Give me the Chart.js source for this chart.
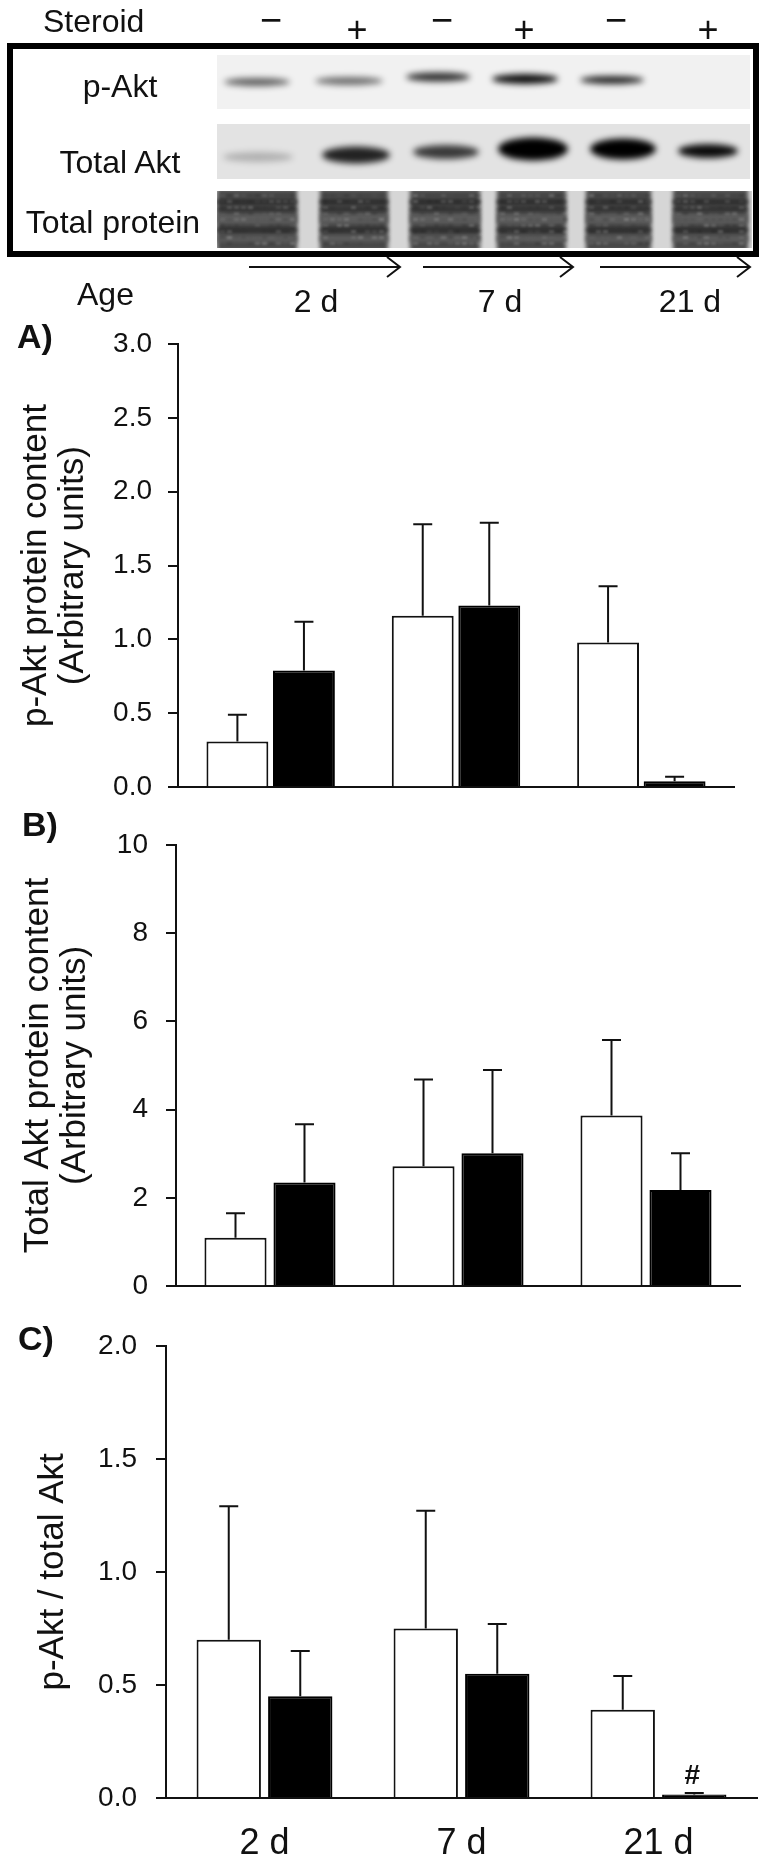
<!DOCTYPE html>
<html>
<head>
<meta charset="utf-8">
<script src="https://cdn.jsdelivr.net/npm/chart.js@4/dist/chart.umd.min.js"></script>
<style>
  body { margin: 0; background: #fff; width: 768px; height: 1858px; position: relative; overflow: hidden; color: #111; }
  .t { position: absolute; white-space: nowrap; }
  .box { position: absolute; left: 7px; top: 43px; width: 752px; height: 214px; border: 6px solid #000; box-sizing: border-box; }
  canvas { position: absolute; left: 0; }
</style>
</head>
<body>
<canvas id="blot" width="768" height="330" style="top:0"></canvas>
<div class="box"></div>
<canvas id="chartA" width="768" height="520" style="top:300px"></canvas>
<canvas id="chartB" width="768" height="511" style="top:810px"></canvas>
<canvas id="chartC" width="768" height="548" style="top:1310px"></canvas>
<script>
const ages = ['2 d', '7 d', '21 d'];

// A) p-Akt protein content
const pAktControl = [0.31, 1.16, 0.98];
const pAktControlSem = [0.18, 0.62, 0.38];
const pAktSteroid = [0.79, 1.23, 0.04];
const pAktSteroidSem = [0.33, 0.56, 0.03];
const pAktTicks = [0, 0.5, 1.0, 1.5, 2.0, 2.5, 3.0];

// B) total Akt protein content
const totalAktControl = [1.10, 2.72, 3.87];
const totalAktControlSem = [0.55, 1.96, 1.71];
const totalAktSteroid = [2.35, 3.01, 2.18];
const totalAktSteroidSem = [1.32, 1.89, 0.83];
const totalAktTicks = [0, 2, 4, 6, 8, 10];

// C) p-Akt / total Akt
const ratioControl = [0.70, 0.75, 0.39];
const ratioControlSem = [0.59, 0.52, 0.15];
const ratioSteroid = [0.45, 0.55, 0.015];
const ratioSteroidSem = [0.20, 0.22, 0.007];
const ratioTicks = [0, 0.5, 1.0, 1.5, 2.0];
const ratioMarks = ['', '', '#'];

const FONT = '"Liberation Sans", Arial, sans-serif';
Chart.defaults.font.family = FONT;
Chart.defaults.color = '#111';

// --- text labels (html) ---
function addText(txt, x, base, size, opts) {
  opts = opts || {};
  const d = document.createElement('div');
  d.className = 't';
  d.textContent = txt;
  d.style.font = (opts.bold ? 'bold ' : '') + size + 'px ' + FONT;
  d.style.lineHeight = size + 'px';
  d.style.top = (base - 0.8465 * size) + 'px';
  d.style.left = x + 'px';
  if (opts.center) d.style.transform = 'translateX(-50%)';
  document.body.appendChild(d);
}

addText('Steroid', 43, 32, 32);
[271, 442, 616].forEach(x => addText('\u2212', x, 33, 38, {center: true}));
[357, 524, 708].forEach(x => addText('+', x, 42, 36, {center: true}));
addText('p-Akt', 120, 97, 32, {center: true});
addText('Total Akt', 120, 173, 32, {center: true});
addText('Total protein', 113, 233, 32, {center: true});
addText('Age', 77, 305, 32);
addText('2 d', 316, 312, 32, {center: true});
addText('7 d', 500, 312, 32, {center: true});
addText('21 d', 690, 312, 32, {center: true});
addText('A)', 17, 348, 34, {bold: true});
addText('B)', 22, 836, 34, {bold: true});
addText('C)', 18, 1350, 34, {bold: true});

// --- blot picture ---
const bctx = document.getElementById('blot').getContext('2d');
const pAktBands = [[257, 82, 66, 8, 0.6], [349, 81, 68, 8, 0.55], [438, 77, 64, 9, 0.8], [525, 79, 66, 10, 0.95], [612, 80, 64, 8, 0.85]];
const totalAktBands = [[258, 157, 70, 10, 0.22], [356, 155, 68, 17, 0.85], [446, 152, 66, 14, 0.75], [533, 149, 70, 23, 1], [623, 149, 66, 21, 1], [708, 151, 60, 14, 0.95]];
const proteinLanes = [[217, 297], [320, 388], [410, 480], [497, 566], [586, 651], [673, 748]];

function strip(x, y, w, h, bg, fn) {
  bctx.save();
  bctx.beginPath(); bctx.rect(x, y, w, h); bctx.clip();
  bctx.fillStyle = bg; bctx.fillRect(x, y, w, h);
  fn();
  bctx.restore();
}
function bands(list) {
  bctx.filter = 'blur(3px)';
  list.forEach(([cx, cy, w, h, a]) => {
    bctx.fillStyle = 'rgba(0,0,0,' + a + ')';
    bctx.beginPath();
    bctx.ellipse(cx, cy, w / 2, h / 2, 0, 0, Math.PI * 2);
    bctx.fill();
  });
  bctx.filter = 'none';
}
strip(217, 55, 533, 54, '#f1f1f1', () => bands(pAktBands));
strip(217, 124, 533, 55, '#e3e3e3', () => bands(totalAktBands));
strip(217, 191, 535, 57, '#d6d6d6', () => {
  bctx.filter = 'blur(2px)';
  proteinLanes.forEach(([a, b]) => {
    bctx.fillStyle = '#484848'; bctx.fillRect(a, 189, b - a, 62);
    bctx.fillStyle = '#5c5c5c'; bctx.fillRect(a, 213, b - a, 11); bctx.fillRect(a, 235, b - a, 7);
    bctx.fillStyle = '#262626'; bctx.fillRect(a, 200, b - a, 4); bctx.fillRect(a, 208, b - a, 3); bctx.fillRect(a, 228, b - a, 4);
  });
  bctx.filter = 'blur(1px)';
  // mottled texture, fixed pattern
  proteinLanes.forEach(([a, b], k) => {
    for (let x = a + 3; x < b - 2; x += 7) {
      for (let y = 194; y < 246; y += 6) {
        const s = Math.sin(x * 12.9898 + y * 78.233 + k) * 43758.5453;
        const f = s - Math.floor(s);
        bctx.fillStyle = f > 0.5 ? 'rgba(255,255,255,' + (f - 0.5) * 0.35 + ')' : 'rgba(0,0,0,' + f * 0.3 + ')';
        bctx.fillRect(x, y, 5, 3);
      }
    }
  });
  bctx.filter = 'none';
});
// age arrows
const arrowSpans = [[249, 400], [423, 573], [600, 750]];
bctx.strokeStyle = '#111'; bctx.lineWidth = 2;
arrowSpans.forEach(([a, b]) => {
  bctx.beginPath();
  bctx.moveTo(a, 267); bctx.lineTo(b, 267);
  bctx.moveTo(b - 13, 257); bctx.lineTo(b, 267); bctx.lineTo(b - 13, 277);
  bctx.stroke();
});

// --- error bars plugin ---
const errorBars = {
  id: 'errorBars',
  afterDatasetsDraw(chart) {
    const ctx = chart.ctx, y = chart.scales.y;
    chart.data.datasets.forEach((ds, i) => {
      chart.getDatasetMeta(i).data.forEach((bar, j) => {
        const top = y.getPixelForValue(ds.data[j] + ds.errors[j]);
        ctx.save();
        ctx.strokeStyle = '#111'; ctx.lineWidth = 2;
        ctx.beginPath();
        ctx.moveTo(bar.x, bar.y); ctx.lineTo(bar.x, top);
        ctx.moveTo(bar.x - 9.5, top); ctx.lineTo(bar.x + 9.5, top);
        ctx.stroke();
        if (ds.marks && ds.marks[j]) {
          ctx.fillStyle = '#111';
          ctx.font = 'bold 28px ' + FONT;
          ctx.textAlign = 'center'; ctx.textBaseline = 'middle';
          ctx.fillText(ds.marks[j], bar.x - 2, top - 17);
        }
        ctx.restore();
      });
    });
  }
};

function panel(id, o) {
  return new Chart(document.getElementById(id), {
    type: 'bar',
    data: {
      labels: ages,
      datasets: [
        { label: 'Control', data: o.ctrl, errors: o.ctrlSem, backgroundColor: '#fff', borderColor: '#111', borderWidth: 2,
          categoryPercentage: o.catPct, barPercentage: o.barPct },
        { label: 'Steroid', data: o.ster, errors: o.sterSem, marks: o.marks, backgroundColor: '#000', borderColor: '#000', borderWidth: 2,
          categoryPercentage: o.catPct, barPercentage: o.barPct }
      ]
    },
    options: {
      responsive: false, animation: false, devicePixelRatio: 1,
      layout: { padding: { top: o.padTop, right: o.padRight, left: 0, bottom: 0 } },
      plugins: { legend: { display: false }, tooltip: { enabled: false } },
      scales: {
        x: {
          grid: { display: false },
          border: { color: '#111', width: 2 },
          ticks: { display: o.showX, font: { size: 36, lineHeight: 1.2 }, color: '#111', padding: 16 },
          afterFit: s => { s.height = o.xHeight; }
        },
        y: {
          min: o.ticks[0], max: o.ticks[o.ticks.length - 1],
          afterBuildTicks: s => { s.ticks = o.ticks.map(v => ({ value: v })); },
          grid: { drawOnChartArea: false, tickLength: 10, color: '#111', lineWidth: 2 },
          border: { color: '#111', width: 2 },
          ticks: { font: { size: 28 }, color: '#111', padding: o.tickPad, callback: o.fmt },
          title: { display: true, text: o.title, font: { size: 35, lineHeight: '37px' }, color: '#111', padding: { top: o.titlePad, bottom: 0 } },
          afterFit: s => { s.width = o.yWidth; }
        }
      }
    },
    plugins: [errorBars]
  });
}

panel('chartA', {
  ctrl: pAktControl, ctrlSem: pAktControlSem, ster: pAktSteroid, sterSem: pAktSteroidSem,
  ticks: pAktTicks, fmt: v => v.toFixed(1),
  title: ['p-Akt protein content', '(Arbitrary units)'], titlePad: 17.5,
  padTop: 44, padRight: 34, yWidth: 178, xHeight: 25, tickPad: 16, showX: false,
  catPct: 0.718, barPct: 0.93
});
panel('chartB', {
  ctrl: totalAktControl, ctrlSem: totalAktControlSem, ster: totalAktSteroid, sterSem: totalAktSteroidSem,
  ticks: totalAktTicks, fmt: v => String(v),
  title: ['Total Akt protein content', '(Arbitrary units)'], titlePad: 19.5,
  padTop: 31, padRight: 28, yWidth: 176, xHeight: 25, tickPad: 18, showX: false,
  catPct: 0.734, barPct: 0.9
});
panel('chartC', {
  ctrl: ratioControl, ctrlSem: ratioControlSem, ster: ratioSteroid, sterSem: ratioSteroidSem, marks: ratioMarks,
  ticks: ratioTicks, fmt: v => v.toFixed(1),
  title: 'p-Akt / total Akt', titlePad: 34.5,
  padTop: 32, padRight: 11, yWidth: 166, xHeight: 60, tickPad: 19, showX: true,
  catPct: 0.726, barPct: 0.9
});
</script>
</body>
</html>
